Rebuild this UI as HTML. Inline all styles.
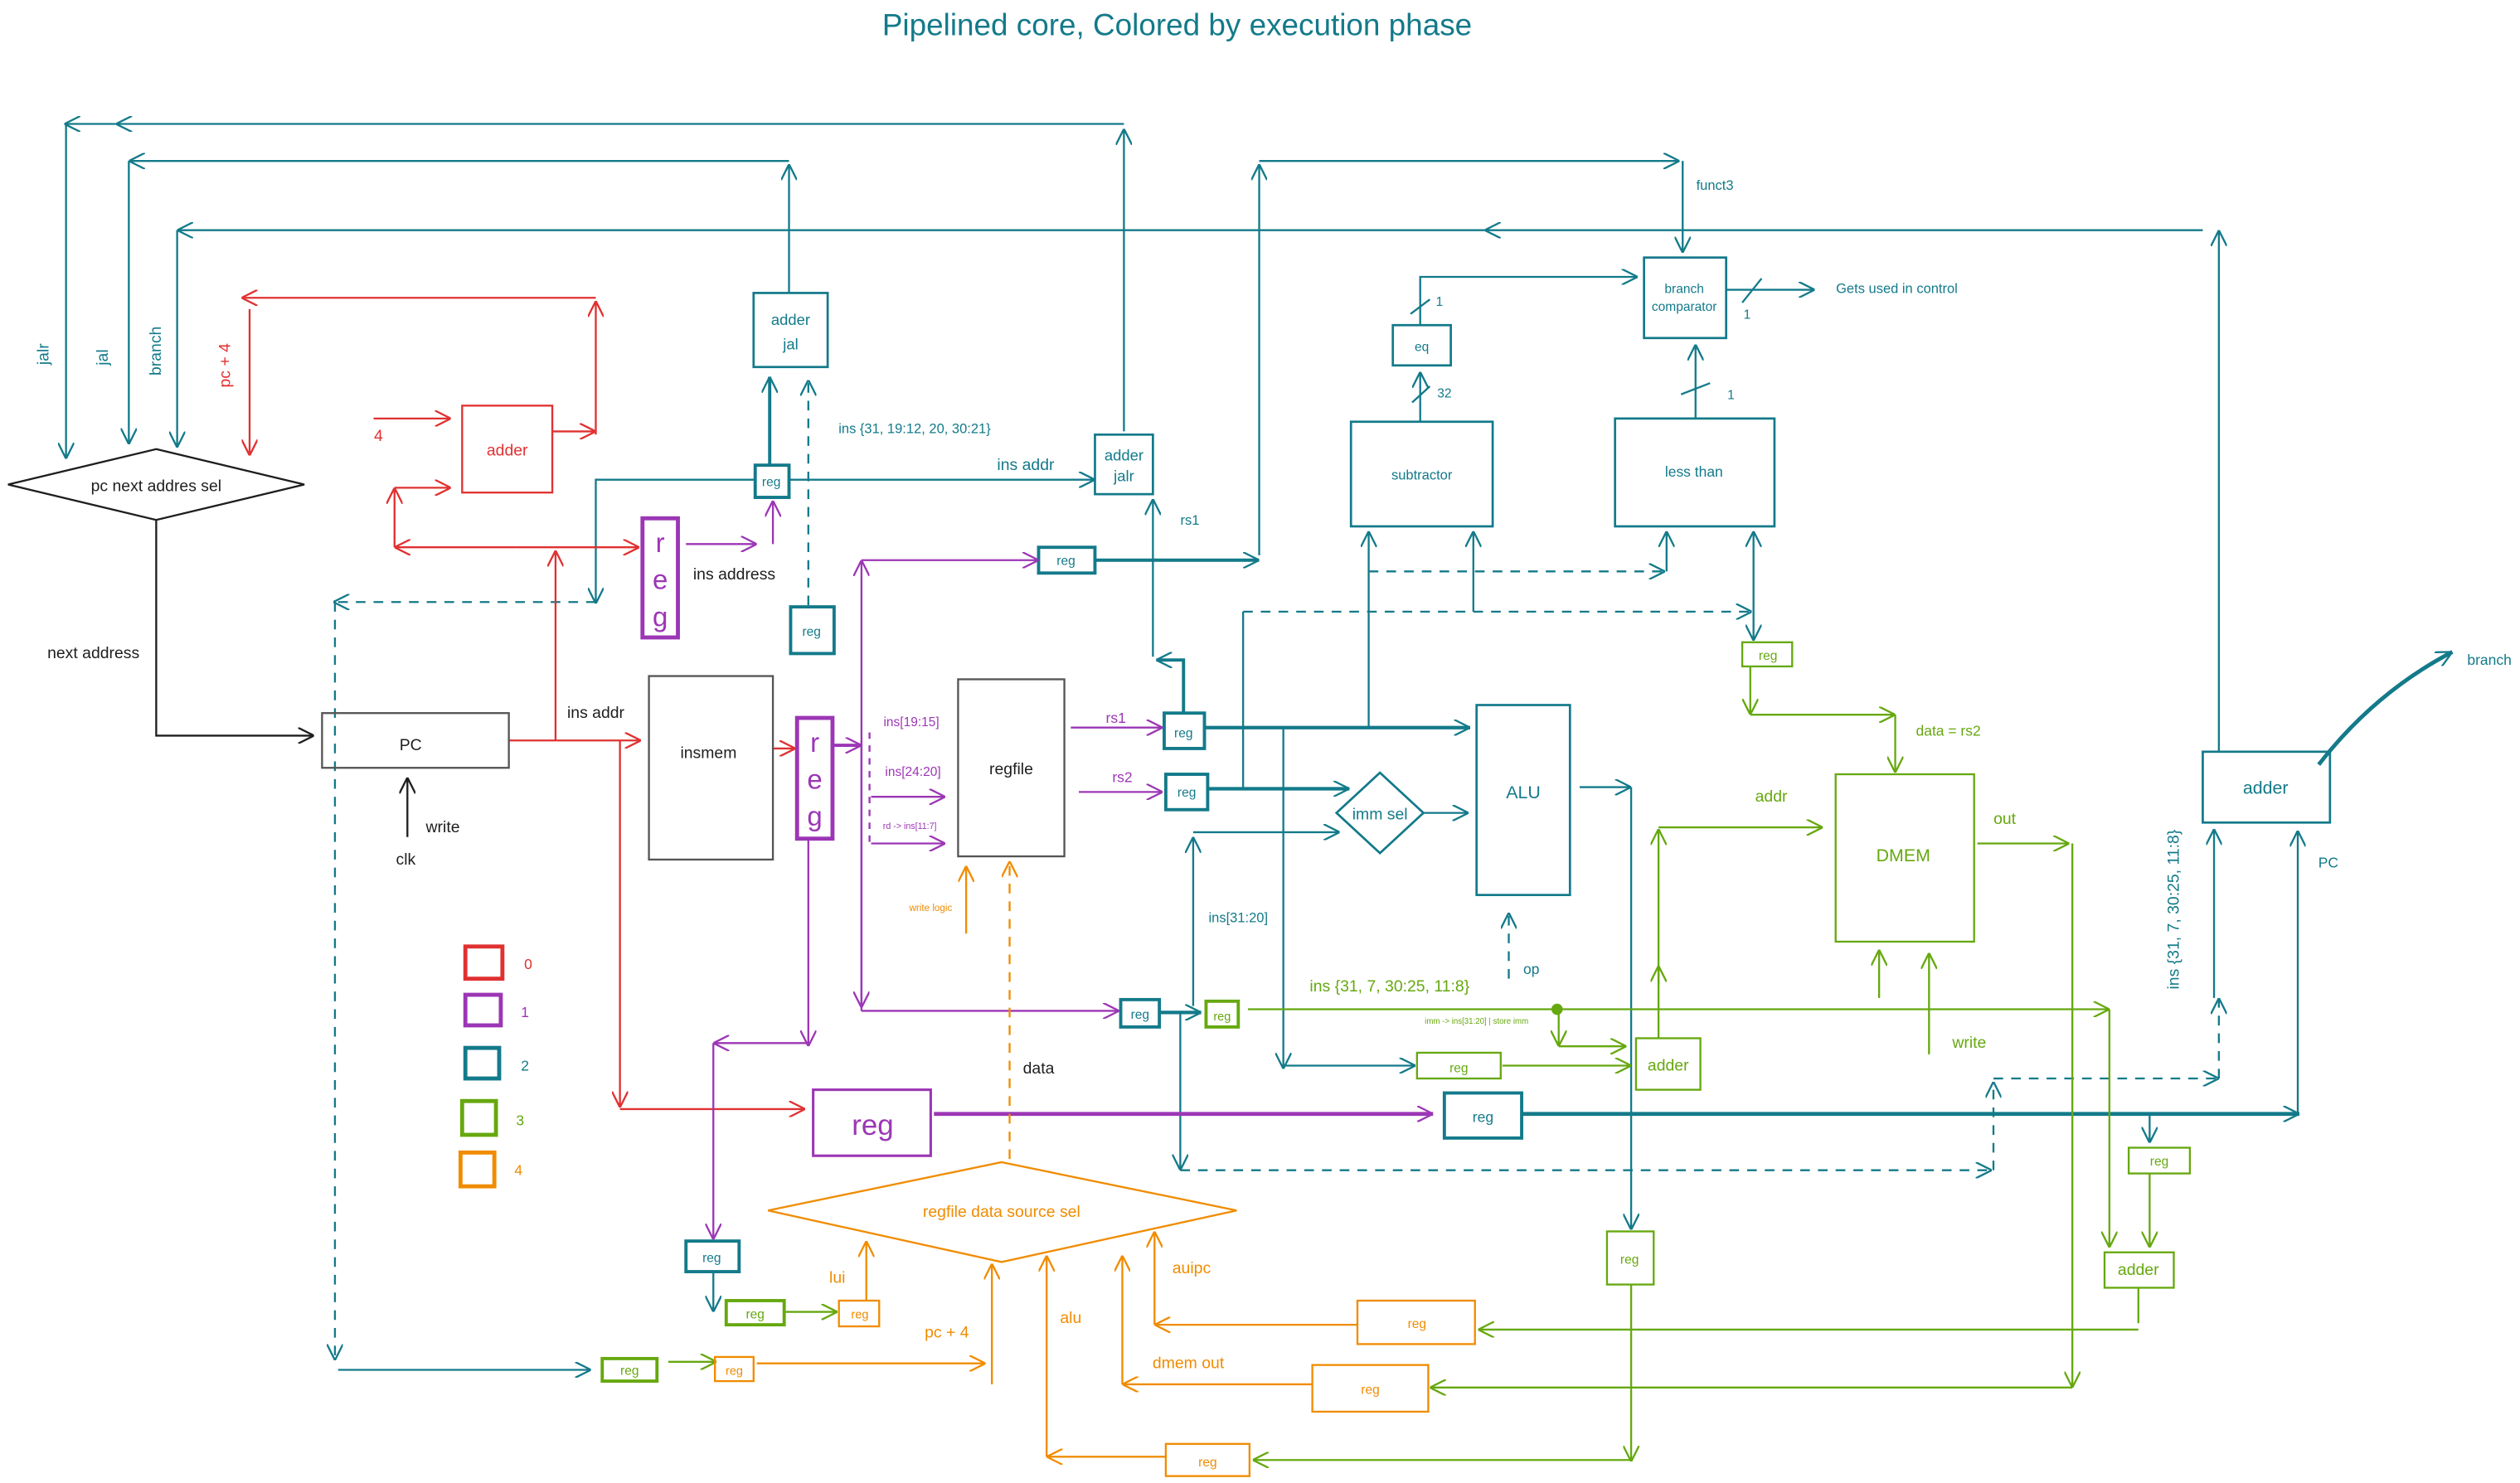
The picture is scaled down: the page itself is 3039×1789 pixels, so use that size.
<!DOCTYPE html>
<html><head><meta charset="utf-8"><style>html,body{margin:0;padding:0;background:#fff}svg{display:block}text{font-family:"Liberation Sans",sans-serif}</style></head><body>
<svg width="3039" height="1789" viewBox="0 0 1565 921.3" xmlns="http://www.w3.org/2000/svg">
<defs>
<marker id="t" viewBox="0 0 10 10" refX="10" refY="5" markerWidth="10" markerHeight="10" markerUnits="userSpaceOnUse" orient="auto"><path d="M0,0 L10,5 L0,10" fill="none" stroke="#137a8a" stroke-width="1.2"/></marker>
<marker id="r" viewBox="0 0 10 10" refX="10" refY="5" markerWidth="10" markerHeight="10" markerUnits="userSpaceOnUse" orient="auto"><path d="M0,0 L10,5 L0,10" fill="none" stroke="#e03131" stroke-width="1.2"/></marker>
<marker id="p" viewBox="0 0 10 10" refX="10" refY="5" markerWidth="10" markerHeight="10" markerUnits="userSpaceOnUse" orient="auto"><path d="M0,0 L10,5 L0,10" fill="none" stroke="#9c36b5" stroke-width="1.2"/></marker>
<marker id="g" viewBox="0 0 10 10" refX="10" refY="5" markerWidth="10" markerHeight="10" markerUnits="userSpaceOnUse" orient="auto"><path d="M0,0 L10,5 L0,10" fill="none" stroke="#66a80f" stroke-width="1.2"/></marker>
<marker id="o" viewBox="0 0 10 10" refX="10" refY="5" markerWidth="10" markerHeight="10" markerUnits="userSpaceOnUse" orient="auto"><path d="M0,0 L10,5 L0,10" fill="none" stroke="#f08c00" stroke-width="1.2"/></marker>
<marker id="k" viewBox="0 0 10 10" refX="10" refY="5" markerWidth="10" markerHeight="10" markerUnits="userSpaceOnUse" orient="auto"><path d="M0,0 L10,5 L0,10" fill="none" stroke="#1e1e1e" stroke-width="1.2"/></marker>
</defs>

<text x="731" y="22" font-size="19" fill="#137a8a" text-anchor="middle">Pipelined core, Colored by execution phase</text>

<g fill="none" stroke="#137a8a" stroke-width="1.2">
<path d="M698,268 V80" marker-end="url(#t)"/>
<path d="M698,77 H72" marker-end="url(#t)"/>
<path d="M72,77 H40" marker-end="url(#t)"/>
<path d="M41,77 V285" marker-end="url(#t)"/>
<path d="M490,182 V102" marker-end="url(#t)"/>
<path d="M490,100 H80" marker-end="url(#t)"/>
<path d="M80,100 V276" marker-end="url(#t)"/>
<path d="M1378,467 V143" marker-end="url(#t)"/>
<path d="M1368,143 H922" marker-end="url(#t)"/>
<path d="M922,143 H110" marker-end="url(#t)"/>
<path d="M110,143 V278" marker-end="url(#t)"/>
<path d="M782,345 V102" marker-end="url(#t)"/>
<path d="M782,100 H1043" marker-end="url(#t)"/>
<path d="M1045,100 V157" marker-end="url(#t)"/>
<path d="M478,289 V234" stroke-width="2" marker-end="url(#t)"/>
<path d="M502,376 V236" stroke-dasharray="6,5" marker-end="url(#t)"/>
<path d="M490,298 H680" marker-end="url(#t)"/>
<path d="M469,298 H370 V375" marker-end="url(#t)"/>
<path d="M370,374 H207" stroke-dasharray="6,5" marker-end="url(#t)"/>
<path d="M208,374 V845" stroke-dasharray="6,5" marker-end="url(#t)"/>
<path d="M210,851 H367" marker-end="url(#t)"/>
<path d="M680,348 H782" stroke-width="2" marker-end="url(#t)"/>
<path d="M716,408 V310" marker-end="url(#t)"/>
<path d="M735,443 V410 H718" stroke-width="2" marker-end="url(#t)"/>
<path d="M748,452 H913" stroke-width="2.2" marker-end="url(#t)"/>
<path d="M750,490 H838" stroke-width="2.2" marker-end="url(#t)"/>
<path d="M884,505 H912" marker-end="url(#t)"/>
<path d="M741,625 V520" marker-end="url(#t)"/>
<path d="M741,517 H832" marker-end="url(#t)"/>
<path d="M797,452 V664" marker-end="url(#t)"/>
<path d="M797,662 H879" marker-end="url(#t)"/>
<path d="M772,490 V380"/>
<path d="M772,380 H1088" stroke-dasharray="6,5" marker-end="url(#t)"/>
<path d="M850,452 V330" marker-end="url(#t)"/>
<path d="M915,380 V330" marker-end="url(#t)"/>
<path d="M850,355 H1034" stroke-dasharray="6,5" marker-end="url(#t)"/>
<path d="M1035,355 V330" marker-end="url(#t)"/>
<path d="M1089,380 V330" marker-end="url(#t)"/>
<path d="M1089,380 V398" marker-end="url(#t)"/>
<path d="M882,262 V231" marker-end="url(#t)"/>
<path d="M877,250 L888,240"/>
<path d="M882,202 V172 H1017" marker-end="url(#t)"/>
<path d="M876,195 L888,186"/>
<path d="M1053,260 V214" marker-end="url(#t)"/>
<path d="M1044,245 L1062,238"/>
<path d="M1072,180 H1127" marker-end="url(#t)"/>
<path d="M1082,188 L1094,173"/>
<path d="M937,608 V567" stroke-dasharray="6,5" marker-end="url(#t)"/>
<path d="M981,489 H1013" marker-end="url(#t)"/>
<path d="M1013,489 V764" marker-end="url(#t)"/>
<path d="M720,629 H746" stroke-width="2.2" marker-end="url(#t)"/>
<path d="M733,629 V727" marker-end="url(#t)"/>
<path d="M733,727 H1237" stroke-dasharray="6,5" marker-end="url(#t)"/>
<path d="M1238,727 V672" stroke-dasharray="6,5" marker-end="url(#t)"/>
<path d="M1238,670 H1378" stroke-dasharray="6,5" marker-end="url(#t)"/>
<path d="M1378,670 V620" stroke-dasharray="6,5" marker-end="url(#t)"/>
<path d="M1375,620 V515" marker-end="url(#t)"/>
<path d="M945,692 H1428" stroke-width="2.5" marker-end="url(#t)"/>
<path d="M1427,692 V516" marker-end="url(#t)"/>
<path d="M1335,692 V710" marker-end="url(#t)"/>
<path d="M443,790 V815" marker-end="url(#t)"/>
<path d="M1440,475 Q1475,430 1523,405" stroke-width="2.5" marker-end="url(#t)"/>
</g>
<g fill="none" stroke="#137a8a" stroke-width="1.4">
<rect x="468" y="182" width="46" height="46"/>
<rect x="680" y="270" width="36" height="37"/>
<rect x="469" y="289" width="21" height="20" stroke-width="2"/>
<rect x="491" y="377" width="27" height="29" stroke-width="2"/>
<rect x="645" y="340" width="35" height="16" stroke-width="2"/>
<rect x="723" y="443" width="25" height="22" stroke-width="2"/>
<rect x="724" y="481" width="26" height="22" stroke-width="2"/>
<rect x="696" y="621" width="24" height="17" stroke-width="2"/>
<rect x="426" y="771" width="33" height="19" stroke-width="2"/>
<rect x="897" y="679" width="48" height="28" stroke-width="2"/>
<rect x="289" y="651" width="21" height="19" stroke-width="2.5"/>
<path d="M857,480 L884,505 L857,530 L830,505 Z"/>
<rect x="917" y="438" width="58" height="118"/>
<rect x="839" y="262" width="88" height="65"/>
<rect x="865" y="202" width="36" height="25"/>
<rect x="1021" y="160" width="51" height="50"/>
<rect x="1003" y="260" width="99" height="67"/>
<rect x="1368" y="467" width="79" height="44"/>
</g>
<g fill="#137a8a" font-size="9.5" text-anchor="middle">
<text x="491" y="202">adder</text><text x="491" y="217">jal</text>
<text x="698" y="286">adder</text><text x="698" y="299">jalr</text>
<text x="479" y="302" font-size="8">reg</text>
<text x="504" y="395" font-size="8">reg</text>
<text x="662" y="351" font-size="8">reg</text>
<text x="735" y="458" font-size="8">reg</text>
<text x="737" y="495" font-size="8">reg</text>
<text x="708" y="633" font-size="8">reg</text>
<text x="442" y="784" font-size="8">reg</text>
<text x="921" y="697" font-size="9">reg</text>
<text x="857" y="509" font-size="10">imm sel</text>
<text x="946" y="496" font-size="11">ALU</text>
<text x="883" y="298" font-size="8.5">subtractor</text>
<text x="883" y="218" font-size="8">eq</text>
<text x="1046" y="182" font-size="8">branch</text><text x="1046" y="193" font-size="8">comparator</text>
<text x="1052" y="296" font-size="9">less than</text>
<text x="1407" y="493" font-size="11">adder</text>
<text x="1065" y="118" font-size="8.5">funct3</text>
<text x="1178" y="182" font-size="8.5">Gets used in control</text>
<text x="894" y="190" font-size="8">1</text>
<text x="897" y="247" font-size="8">32</text>
<text x="1085" y="198" font-size="8">1</text>
<text x="1075" y="248" font-size="8">1</text>
<text x="951" y="605" font-size="9">op</text>
<text x="1446" y="539" font-size="9">PC</text>
<text x="1546" y="413" font-size="9">branch</text>
<text x="568" y="269" font-size="8.5">ins {31, 19:12, 20, 30:21}</text>
<text x="637" y="292" font-size="10">ins addr</text>
<text x="739" y="326" font-size="8.5">rs1</text>
<text x="769" y="573" font-size="8.5">ins[31:20]</text>
<text x="326" y="665" font-size="9">2</text>
<text transform="translate(30,220) rotate(-90)" font-size="10">jalr</text>
<text transform="translate(67,222) rotate(-90)" font-size="10">jal</text>
<text transform="translate(100,218) rotate(-90)" font-size="10">branch</text>
<text transform="translate(1353,565) rotate(-90)" font-size="10">ins {31, 7, 30:25, 11:8}</text>
</g>

<g fill="none" stroke="#e03131" stroke-width="1.2">
<path d="M370,270 V187" marker-end="url(#r)"/>
<path d="M370,185 H150" marker-end="url(#r)"/>
<path d="M155,192 V283" marker-end="url(#r)"/>
<path d="M232,260 H280" marker-end="url(#r)"/>
<path d="M343,268 H370" marker-end="url(#r)"/>
<path d="M245,303 H280" marker-end="url(#r)"/>
<path d="M245,340 V303" marker-end="url(#r)"/>
<path d="M320,340 H245" marker-end="url(#r)"/>
<path d="M320,340 H397" marker-end="url(#r)"/>
<path d="M345,460 V342" marker-end="url(#r)"/>
<path d="M316,460 H398" marker-end="url(#r)"/>
<path d="M385,460 V688" marker-end="url(#r)"/>
<path d="M385,689 H500" marker-end="url(#r)"/>
<path d="M480,465 H494" marker-end="url(#r)"/>
<rect x="287" y="252" width="56" height="54"/>
<rect x="289" y="588" width="23" height="20" stroke-width="2.5"/>
</g>
<g fill="#e03131" font-size="10" text-anchor="middle">
<text x="315" y="283">adder</text>
<text x="235" y="274">4</text>
<text x="328" y="602" font-size="9">0</text>
<text transform="translate(143,227) rotate(-90)">pc + 4</text>
<text x="370" y="446" fill="#1e1e1e" font-size="10">ins addr</text>
</g>

<g fill="none" stroke="#1e1e1e" stroke-width="1.2">
<path d="M97,279 L189,301 L97,323 L5,301 Z"/>
<path d="M97,323 V457 H195" marker-end="url(#k)"/>
<path d="M253,520 V483" marker-end="url(#k)"/>
</g>
<g fill="none" stroke="#555" stroke-width="1.2">
<rect x="200" y="443" width="116" height="34"/>
<rect x="403" y="420" width="77" height="114"/>
<rect x="595" y="422" width="66" height="110"/>
</g>
<g fill="#1e1e1e" font-size="10" text-anchor="middle">
<text x="97" y="305">pc next addres sel</text>
<text x="58" y="409">next address</text>
<text x="255" y="466">PC</text>
<text x="275" y="517">write</text>
<text x="252" y="537">clk</text>
<text x="440" y="471">insmem</text>
<text x="628" y="481">regfile</text>
<text x="645" y="667">data</text>
<text x="456" y="360">ins address</text>
</g>

<g fill="none" stroke="#9c36b5" stroke-width="1.2">
<rect x="399" y="322" width="22" height="74" stroke-width="2.5"/>
<rect x="495" y="446" width="22" height="75" stroke-width="2.5"/>
<rect x="505" y="677" width="73" height="41" stroke-width="1.6"/>
<rect x="289" y="618" width="22" height="19" stroke-width="2.5"/>
<path d="M426,338 H470" marker-end="url(#p)"/>
<path d="M480,338 V311" marker-end="url(#p)"/>
<path d="M517,463 H535" stroke-width="2" marker-end="url(#p)"/>
<path d="M535,628 V348" marker-end="url(#p)"/>
<path d="M535,348 H645" marker-end="url(#p)"/>
<path d="M535,460 V626" marker-end="url(#p)"/>
<path d="M535,628 H695" marker-end="url(#p)"/>
<path d="M540,455 V525" stroke-dasharray="4,4"/>
<path d="M541,495 H587" marker-end="url(#p)"/>
<path d="M541,524 H587" marker-end="url(#p)"/>
<path d="M665,452 H722" marker-end="url(#p)"/>
<path d="M670,492 H722" marker-end="url(#p)"/>
<path d="M502,521 V650" marker-end="url(#p)"/>
<path d="M502,648 H443" marker-end="url(#p)"/>
<path d="M443,648 V770" marker-end="url(#p)"/>
<path d="M580,692 H890" stroke-width="2.5" marker-end="url(#p)"/>
</g>
<g fill="#9c36b5" text-anchor="middle">
<text x="410" y="343" font-size="17">r</text><text x="410" y="366" font-size="17">e</text><text x="410" y="389" font-size="17">g</text>
<text x="506" y="467" font-size="17">r</text><text x="506" y="490" font-size="17">e</text><text x="506" y="513" font-size="17">g</text>
<text x="542" y="705" font-size="18">reg</text>
<text x="566" y="451" font-size="8">ins[19:15]</text>
<text x="567" y="482" font-size="8">ins[24:20]</text>
<text x="565" y="515" font-size="5.5">rd -&gt; ins[11:7]</text>
<text x="693" y="449" font-size="9">rs1</text>
<text x="697" y="486" font-size="9">rs2</text>
<text x="326" y="632" font-size="9">1</text>
</g>

<g fill="none" stroke="#66a80f" stroke-width="1.2">
<rect x="749" y="622" width="20" height="16" stroke-width="2"/>
<rect x="880" y="654" width="52" height="16"/>
<rect x="1016" y="645" width="40" height="32"/>
<rect x="1082" y="399" width="31" height="15"/>
<rect x="1140" y="481" width="86" height="104"/>
<rect x="998" y="765" width="29" height="33"/>
<rect x="1322" y="713" width="38" height="16"/>
<rect x="1307" y="778" width="43" height="22"/>
<rect x="451" y="808" width="36" height="15" stroke-width="2"/>
<rect x="374" y="844" width="34" height="14" stroke-width="2"/>
<rect x="287" y="684" width="21" height="21" stroke-width="2.5"/>
<path d="M775,627 H1310" marker-end="url(#g)"/>
<path d="M1310,627 V775" marker-end="url(#g)"/>
<path d="M968,627 V650" marker-end="url(#g)"/>
<path d="M968,650 H1010" marker-end="url(#g)"/>
<path d="M933,662 H1013" marker-end="url(#g)"/>
<path d="M1030,645 V600" marker-end="url(#g)"/>
<path d="M1030,612 V515" marker-end="url(#g)"/>
<path d="M1030,514 H1132" marker-end="url(#g)"/>
<path d="M1087,414 V444" marker-end="url(#g)"/>
<path d="M1087,444 H1177" marker-end="url(#g)"/>
<path d="M1177,444 V480" marker-end="url(#g)"/>
<path d="M1167,620 V590" marker-end="url(#g)"/>
<path d="M1198,655 V592" marker-end="url(#g)"/>
<path d="M1228,524 H1285" marker-end="url(#g)"/>
<path d="M1287,524 V862" marker-end="url(#g)"/>
<path d="M1287,862 H888" marker-end="url(#g)"/>
<path d="M1335,729 V775" marker-end="url(#g)"/>
<path d="M1328,800 V822"/>
<path d="M1328,826 H918" marker-end="url(#g)"/>
<path d="M1013,798 V908" marker-end="url(#g)"/>
<path d="M1013,907 H778" marker-end="url(#g)"/>
<path d="M488,815 H520" marker-end="url(#g)"/>
<path d="M415,846 H445" marker-end="url(#g)"/>
</g>
<circle cx="967" cy="627" r="3.5" fill="#66a80f"/>
<g fill="#66a80f" text-anchor="middle">
<text x="759" y="634" font-size="7.5">reg</text>
<text x="906" y="666" font-size="8">reg</text>
<text x="1036" y="665" font-size="10">adder</text>
<text x="1098" y="410" font-size="8">reg</text>
<text x="1182" y="535" font-size="11">DMEM</text>
<text x="1012" y="785" font-size="8">reg</text>
<text x="1341" y="724" font-size="8">reg</text>
<text x="1328" y="792" font-size="10">adder</text>
<text x="469" y="819" font-size="8">reg</text>
<text x="391" y="854" font-size="8">reg</text>
<text x="863" y="616" font-size="10">ins {31, 7, 30:25, 11:8}</text>
<text x="917" y="636" font-size="5">imm -&gt; ins[31:20] | store imm</text>
<text x="1100" y="498" font-size="10">addr</text>
<text x="1245" y="512" font-size="10">out</text>
<text x="1223" y="651" font-size="10">write</text>
<text x="1210" y="457" font-size="9">data = rs2</text>
<text x="323" y="699" font-size="9">3</text>
</g>

<g fill="none" stroke="#f08c00" stroke-width="1.2">
<path d="M622,722 L768,752 L622,784 L477,752 Z"/>
<rect x="521" y="808" width="25" height="16"/>
<rect x="444" y="843" width="24" height="15"/>
<rect x="843" y="808" width="73" height="27"/>
<rect x="815" y="848" width="72" height="29"/>
<rect x="724" y="897" width="52" height="20"/>
<rect x="286" y="716" width="21" height="21" stroke-width="2.5"/>
<path d="M600,580 V538" marker-end="url(#o)"/>
<path d="M627,720 V535" stroke-dasharray="6,5" marker-end="url(#o)"/>
<path d="M538,808 V771" marker-end="url(#o)"/>
<path d="M470,847 H612" marker-end="url(#o)"/>
<path d="M616,860 V785" marker-end="url(#o)"/>
<path d="M724,905 H650" marker-end="url(#o)"/>
<path d="M650,905 V780" marker-end="url(#o)"/>
<path d="M815,860 H697" marker-end="url(#o)"/>
<path d="M697,860 V780" marker-end="url(#o)"/>
<path d="M843,823 H717" marker-end="url(#o)"/>
<path d="M717,823 V765" marker-end="url(#o)"/>
</g>
<g fill="#f08c00" text-anchor="middle">
<text x="622" y="756" font-size="10">regfile data source sel</text>
<text x="534" y="819" font-size="7.5">reg</text>
<text x="456" y="854" font-size="7.5">reg</text>
<text x="880" y="825" font-size="8">reg</text>
<text x="851" y="866" font-size="8">reg</text>
<text x="750" y="911" font-size="8">reg</text>
<text x="578" y="566" font-size="6">write logic</text>
<text x="520" y="797" font-size="10">lui</text>
<text x="588" y="831" font-size="10">pc + 4</text>
<text x="665" y="822" font-size="10">alu</text>
<text x="738" y="850" font-size="10">dmem out</text>
<text x="740" y="791" font-size="10">auipc</text>
<text x="322" y="730" font-size="9">4</text>
</g>
</svg>
</body></html>
